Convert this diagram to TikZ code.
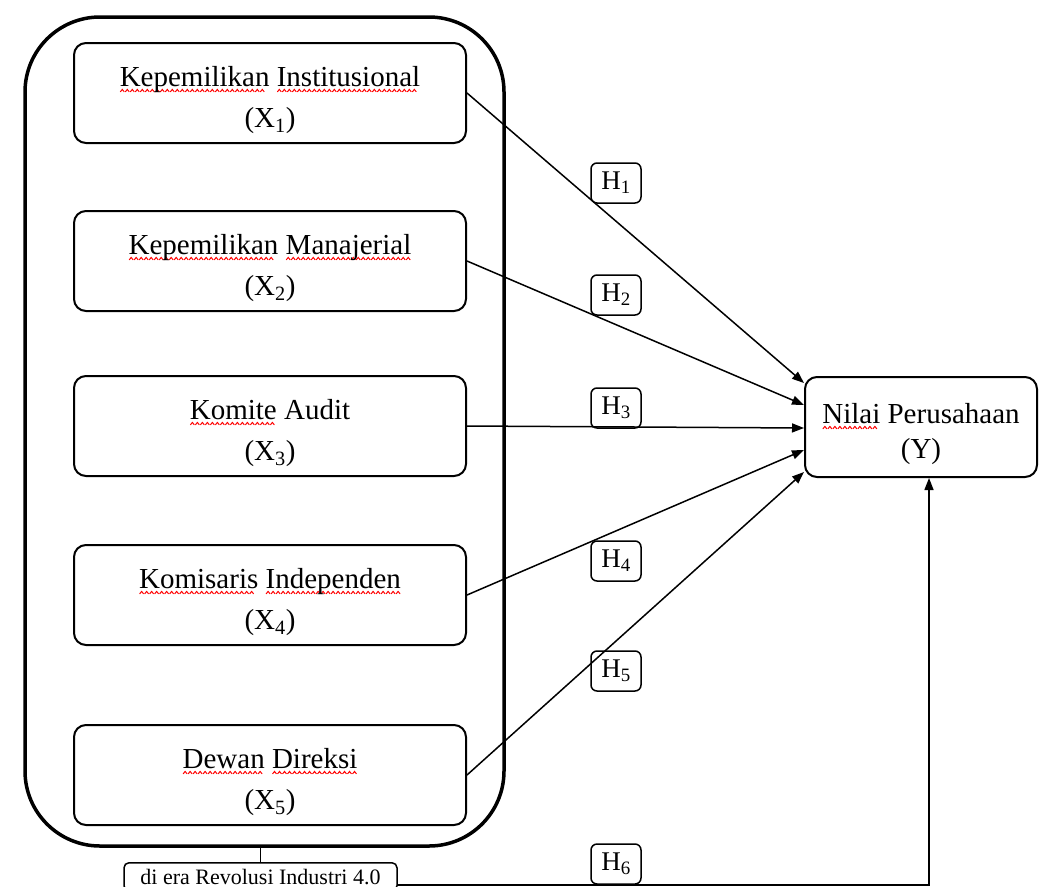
\documentclass[tikz,border=0pt]{standalone}
\usepackage{fontspec}
\setmainfont{Liberation Serif}
\usetikzlibrary{positioning,arrows.meta}
\newsavebox{\wavebox}
\newcommand{\sq}[1]{\leavevmode\setbox0\hbox{#1}\rlap{\lower6pt\hbox to\wd0{\leaders\copy\wavebox\hfill}}\box0\relax}
\newcommand{\up}{\rule{0pt}{34pt}}
\newcommand{\vfont}{\fontsize{29}{41}\selectfont}
\newcommand{\hfont}{\fontsize{27}{30}\selectfont}
\tikzset{
  grpbox/.style ={draw, line width=3.5pt, rounded corners=75pt},
  var/.style    ={draw, line width=2pt, rounded corners=12pt, minimum width=392pt, minimum height=100pt, align=center, font=\vfont},
  hyp/.style    ={draw, line width=1.5pt, rounded corners=6pt, minimum width=50pt, minimum height=40pt, inner sep=0pt, font=\hfont},
  erabox/.style ={draw, line width=1.5pt, rounded corners=5pt, minimum width=273pt, minimum height=28pt, inner ysep=1pt, font=\fontsize{22}{24}\selectfont},
  ln/.style     ={line width=1.5pt, -{Triangle[length=12pt,width=9pt]}},
}
\begin{document}
\sbox{\wavebox}{\begin{pgfpicture}
  \color{red}\pgfsetlinewidth{1pt}
  \pgfpathmoveto{\pgfpoint{0pt}{0pt}}
  \pgfpathlineto{\pgfpoint{2pt}{2.5pt}}
  \pgfpathlineto{\pgfpoint{4pt}{0pt}}
  \pgfusepath{stroke}
\end{pgfpicture}}
\begin{tikzpicture}[x=1pt,y=-1pt]
    \useasboundingbox (0,0) rectangle (1043,886);
    \node[grpbox, minimum width=479pt, minimum height=829pt] (grp) at (264.5,431.5) {};

    \node[var] (x1) at (270,93)  {\up\sq{Kepemilikan} \sq{Institusional}\\(X\textsubscript{1})};
    \node[var] (x2) at (270,261) {\up\sq{Kepemilikan} \sq{Manajerial}\\(X\textsubscript{2})};
    \node[var] (x3) at (270,426) {\up\sq{Komite} Audit\\(X\textsubscript{3})};
    \node[var] (x4) at (270,595) {\up\sq{Komisaris} \sq{Independen}\\(X\textsubscript{4})};
    \node[var] (x5) at (270,775) {\up\sq{Dewan} \sq{Direksi}\\(X\textsubscript{5})};
    \node[var, minimum width=232pt, font=\fontsize{29}{35}\selectfont] (y) at (921,427) {\up\sq{Nilai} Perusahaan\\(Y)};

    \node[erabox, anchor=north] (era) at (260.5,862) {di era Revolusi Industri 4.0};

    \node[hyp] (h1) at (616,183) {H\textsubscript{1}};
    \node[hyp] (h2) at (616,295) {H\textsubscript{2}};
    \node[hyp] (h3) at (616,408) {H\textsubscript{3}};
    \node[hyp] (h4) at (616,561) {H\textsubscript{4}};
    \node[hyp] (h5) at (616,671) {H\textsubscript{5}};
    \node[hyp] (h6) at (616,864) {H\textsubscript{6}};

    \draw[ln] (x1.east) -- ([yshift=44pt]y.west);
    \draw[ln] (x2.east) -- ([yshift=22pt]y.west);
    \draw[ln] (x3.east) -- ([yshift=-1pt]y.west);
    \draw[ln] (x4.east) -- ([yshift=-23pt]y.west);
    \draw[ln] (x5.east) -- ([yshift=-45pt]y.west);

    \draw[line width=1.5pt] (era.north) -- (era.north |- grp.south);
    \coordinate (bend) at (929,885);
    \draw[ln] (era.east |- bend) -- (bend) -- (bend |- y.south);
\end{tikzpicture}
\end{document}
